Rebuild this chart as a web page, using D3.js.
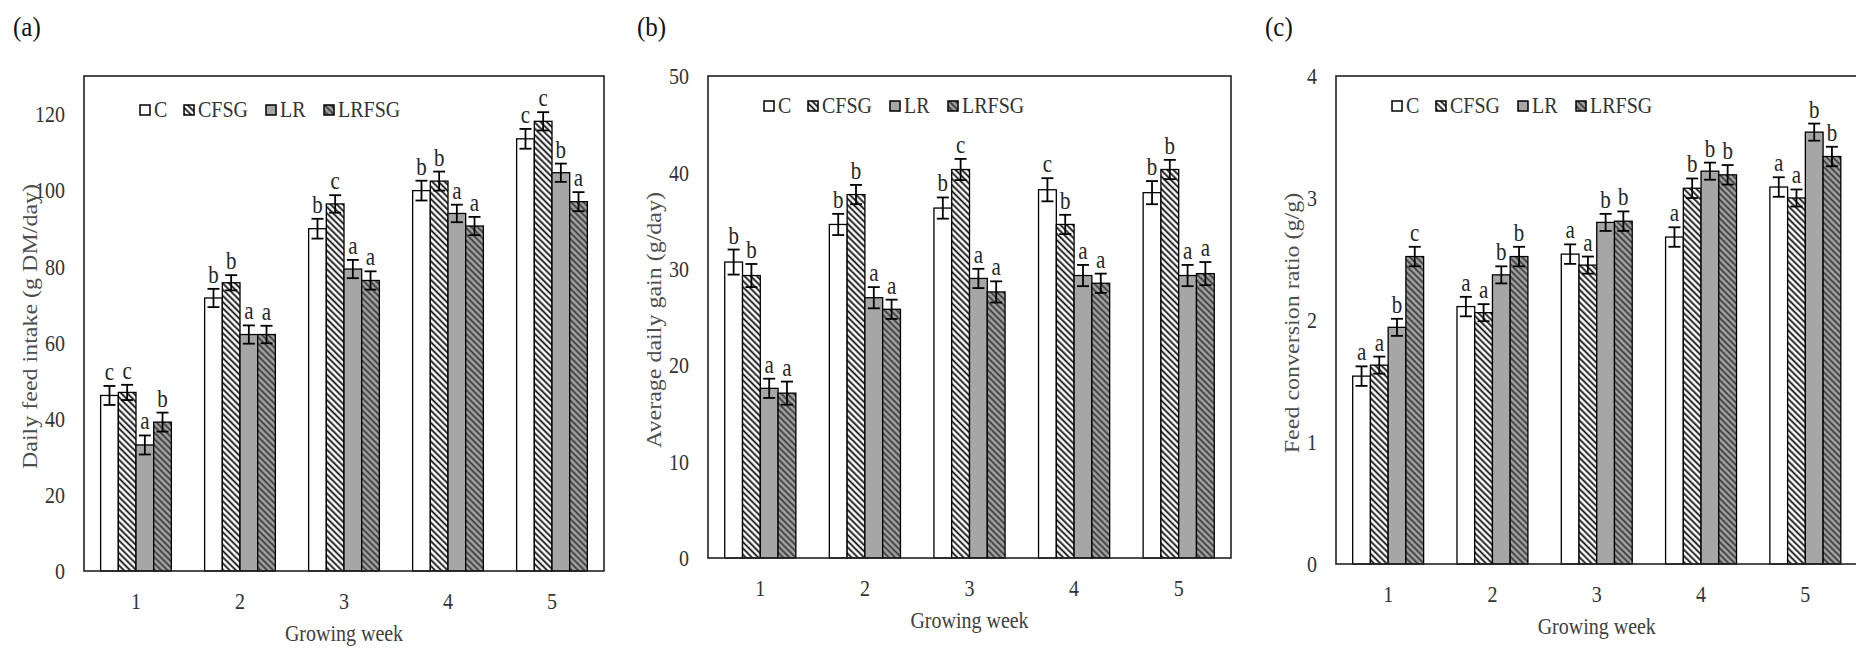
<!DOCTYPE html>
<html><head><meta charset="utf-8">
<script src="https://cdn.jsdelivr.net/npm/d3@7"></script>
<style>body{margin:0;background:#fff} svg{display:block}</style>
</head><body>
<svg id="chart" width="1856" height="649"></svg>
<script>
// ---------- data ----------
const weeks = ["1", "2", "3", "4", "5"];
const groups = ["C", "CFSG", "LR", "LRFSG"];

// (a) Daily feed intake (g DM/day)
const intakeC     = [46.1, 71.7, 89.9, 99.9, 113.5];
const intakeCFSG  = [46.9, 75.7, 96.4, 102.4, 118.1];
const intakeLR    = [33.1, 62.1, 79.3, 93.9, 104.6];
const intakeLRFSG = [39.1, 62.1, 76.3, 90.6, 97.0];
const intakeErr   = [[2.5, 2.4, 2.6, 2.6, 2.6], [2.0, 2.0, 2.3, 2.5, 2.4], [2.5, 2.4, 2.4, 2.3, 2.4], [2.5, 2.3, 2.4, 2.4, 2.5]];
const intakeLetters = [["c","b","b","b","c"], ["c","b","c","b","c"], ["a","a","a","a","b"], ["b","a","a","a","a"]];
const intakeTicks = [0, 20, 40, 60, 80, 100, 120];

// (b) Average daily gain (g/day)
const gainC     = [30.7, 34.6, 36.3, 38.2, 37.9];
const gainCFSG  = [29.3, 37.7, 40.3, 34.6, 40.3];
const gainLR    = [17.6, 27.0, 29.0, 29.3, 29.3];
const gainLRFSG = [17.1, 25.8, 27.6, 28.5, 29.5];
const gainErr   = [[1.3, 1.1, 1.1, 1.2, 1.2], [1.2, 1.0, 1.1, 1.0, 1.0], [1.0, 1.1, 1.0, 1.1, 1.1], [1.2, 1.0, 1.1, 1.0, 1.2]];
const gainLetters = [["b","b","b","c","b"], ["b","b","c","b","b"], ["a","a","a","a","a"], ["a","a","a","a","a"]];
const gainTicks = [0, 10, 20, 30, 40, 50];

// (c) Feed conversion ratio (g/g)
const fcrC     = [1.54, 2.11, 2.54, 2.68, 3.09];
const fcrCFSG  = [1.63, 2.06, 2.45, 3.08, 3.00];
const fcrLR    = [1.94, 2.37, 2.80, 3.22, 3.54];
const fcrLRFSG = [2.52, 2.52, 2.81, 3.19, 3.34];
const fcrErr   = [[0.08, 0.08, 0.08, 0.08, 0.08], [0.07, 0.07, 0.07, 0.08, 0.07], [0.07, 0.07, 0.07, 0.07, 0.07], [0.08, 0.08, 0.08, 0.08, 0.08]];
const fcrLetters = [["a","a","a","a","a"], ["a","a","a","b","a"], ["b","b","b","b","b"], ["c","b","b","b","b"]];
const fcrTicks = [0, 1, 2, 3, 4];

const panelTags = ["(a)", "(b)", "(c)"];
const yTitles = ["Daily feed intake (g DM/day)", "Average daily gain (g/day)", "Feed conversion ratio (g/g)"];
const xTitle = "Growing week";

// ---------- drawing ----------
const svg = d3.select("#chart");
const FONT = "'Liberation Serif', 'Times New Roman', serif";
const SY = 1.2;

const defs = svg.append("defs");
function hatch(id, bg, fg) {
  const p = defs.append("pattern").attr("id", id).attr("patternUnits", "userSpaceOnUse")
    .attr("width", 4.4).attr("height", 4.4).attr("patternTransform", "rotate(-45)");
  p.append("rect").attr("width", 4.4).attr("height", 4.4).attr("fill", bg);
  p.append("line").attr("x1", 1.2).attr("x2", 1.2).attr("y1", -1).attr("y2", 6).attr("stroke", fg).attr("stroke-width", 1.8);
}
hatch("hatchW", "#ffffff", "#111111");
hatch("hatchG", "#a3a3a3", "#3a3a3a");
const fills = ["#ffffff", "url(#hatchW)", "#a6a6a6", "url(#hatchG)"];

const panels = [
  { x0: 84,   x1: 604,    top: 76, bottom: 571, max: 130, ticks: intakeTicks,
    vals: [intakeC, intakeCFSG, intakeLR, intakeLRFSG], err: intakeErr, letters: intakeLetters,
    tagX: 13, legY: 110, titleX: 30 },
  { x0: 708,  x1: 1231,   top: 76, bottom: 558, max: 50, ticks: gainTicks,
    vals: [gainC, gainCFSG, gainLR, gainLRFSG], err: gainErr, letters: gainLetters,
    tagX: 637, legY: 106, titleX: 654 },
  { x0: 1336, x1: 1857.5, top: 76, bottom: 564, max: 4, ticks: fcrTicks,
    vals: [fcrC, fcrCFSG, fcrLR, fcrLRFSG], err: fcrErr, letters: fcrLetters,
    tagX: 1265, legY: 106, titleX: 1292 }
];

function stext(sel, x, y, txt, size, anchor, fill, sy) {
  return sel.append("text")
    .attr("transform", `translate(${x},${y}) scale(1,${sy || SY})`)
    .attr("text-anchor", anchor).attr("font-family", FONT)
    .attr("font-size", size).attr("fill", fill).text(txt);
}

const legendSq = [56, 100, 182, 240];
const legendTx = [70, 114, 196, 254];

panels.forEach((P, pi) => {
  const g = svg.append("g");
  const x = d3.scaleBand().domain(weeks).range([P.x0, P.x1]).paddingInner(0.32).paddingOuter(0.16);
  const xi = d3.scaleBand().domain(groups).range([0, x.bandwidth()]);
  const y = d3.scaleLinear().domain([0, P.max]).range([P.bottom, P.top]);

  // panel tag
  stext(g, P.tagX, 36, panelTags[pi], 25, "start", "#111", 1.1);

  // bars
  groups.forEach((s, si) => {
    const gs = g.append("g");
    gs.selectAll("rect").data(weeks).join("rect")
      .attr("x", (w) => x(w) + xi(s))
      .attr("y", (w, i) => y(P.vals[si][i]))
      .attr("width", xi.bandwidth())
      .attr("height", (w, i) => y(0) - y(P.vals[si][i]))
      .attr("fill", fills[si]).attr("stroke", "#000").attr("stroke-width", 1.3);
  });

  // error bars + letters
  groups.forEach((s, si) => {
    weeks.forEach((w, i) => {
      const v = P.vals[si][i], e = P.err[si][i];
      const cx = x(w) + xi(s) + xi.bandwidth() / 2;
      const yt = y(v + e), yb = y(v - e);
      g.append("line").attr("x1", cx).attr("x2", cx).attr("y1", yt).attr("y2", yb).attr("stroke", "#000").attr("stroke-width", 1.8);
      g.append("line").attr("x1", cx - 6).attr("x2", cx + 6).attr("y1", yt).attr("y2", yt).attr("stroke", "#000").attr("stroke-width", 1.8);
      g.append("line").attr("x1", cx - 6).attr("x2", cx + 6).attr("y1", yb).attr("y2", yb).attr("stroke", "#000").attr("stroke-width", 1.8);
      stext(g, cx, yt - 6, P.letters[si][i], 21, "middle", "#262626", 1.15);
    });
  });

  // frame
  g.append("rect").attr("x", P.x0).attr("y", P.top).attr("width", P.x1 - P.x0).attr("height", P.bottom - P.top)
    .attr("fill", "none").attr("stroke", "#222").attr("stroke-width", 1.6);

  // y axis
  const ya = g.append("g").attr("transform", `translate(${P.x0},0)`)
    .call(d3.axisLeft(y).tickValues(P.ticks).tickFormat(d3.format("d")).tickSize(0).tickPadding(19));
  ya.select(".domain").remove();
  ya.selectAll("text").attr("font-family", FONT).attr("font-size", 20).attr("fill", "#333")
    .attr("transform", `scale(1,${SY})`);

  // x axis
  const xa = g.append("g").attr("transform", `translate(0,${P.bottom})`)
    .call(d3.axisBottom(x).tickSize(0).tickPadding(0));
  xa.select(".domain").remove();
  xa.selectAll("text").attr("font-family", FONT).attr("font-size", 20).attr("fill", "#333")
    .attr("y", 0).attr("dy", "0.35em").attr("transform", `translate(0,30) scale(1,${SY})`);

  // axis titles
  stext(g, (P.x0 + P.x1) / 2, P.bottom + 70, xTitle, 20, "middle", "#404040");
  g.append("text")
    .attr("transform", `translate(${P.titleX},${(P.top + P.bottom) / 2 + 3}) rotate(-90) scale(1.2,1)`)
    .attr("text-anchor", "middle").attr("dy", "0.35em")
    .attr("font-family", FONT).attr("font-size", 20).attr("fill", "#4d4d4d").text(yTitles[pi]);

  // legend
  groups.forEach((s, si) => {
    const lx = P.x0 + legendSq[si];
    g.append("rect").attr("x", lx).attr("y", P.legY - 5).attr("width", 10).attr("height", 10)
      .attr("fill", fills[si]).attr("stroke", "#000").attr("stroke-width", 1.5);
    stext(g, P.x0 + legendTx[si], P.legY + 7, s, 20, "start", "#333", 1.15);
  });
});
</script>
</body></html>
